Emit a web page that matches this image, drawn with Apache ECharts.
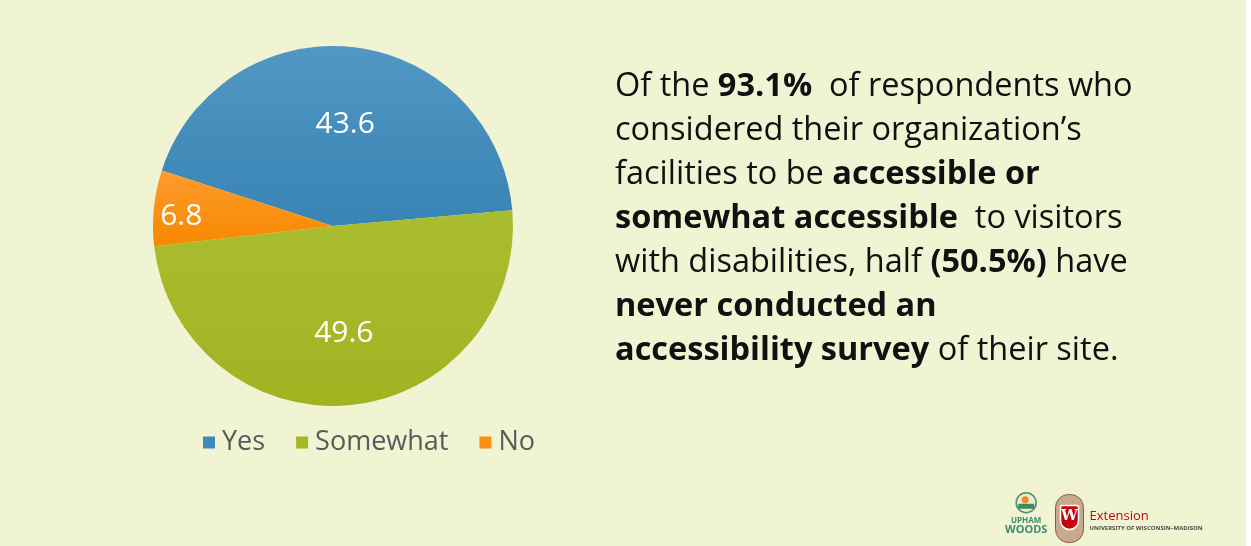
<!DOCTYPE html>
<html>
<head>
<meta charset="utf-8">
<script src="https://cdn.jsdelivr.net/npm/echarts@6/dist/echarts.min.js"></script>
<style>
  html, body { margin: 0; padding: 0; background: #ffffff; }
  #chart { width: 1251px; height: 546px; }
</style>
</head>
<body>
<div id="chart"></div>
<script>
// Survey answers: is the organization's site accessible to visitors with disabilities?
const categories = ['Yes', 'Somewhat', 'No'];
const shares = [43.6, 49.6, 6.8];
const sliceColors = [
  ['#5197c3', '#3884b4'],
  ['#aabd30', '#a0b422'],
  ['#fd9b2c', '#f78900']
];
const legendColors = ['#3f8bbb', '#a5b928', '#fb8f10'];

const FONT = '"Open Sans", Lato, sans-serif';
const CENTER = [333, 226];
const RADIUS = 180;
const START = 162;

function grad(pair) {
  return new echarts.graphic.LinearGradient(0, 0, 0, 1, [
    { offset: 0, color: pair[0] },
    { offset: 1, color: pair[1] }
  ]);
}

const pieData = categories.map((name, i) => ({
  name: name,
  value: shares[i],
  itemStyle: { color: grad(sliceColors[i]) }
}));

// transparent copies of the pie that only carry the value labels
function labelData(showFor) {
  return categories.map((name, i) => ({
    name: name,
    value: shares[i],
    itemStyle: { color: 'rgba(0,0,0,0)' },
    label: { show: showFor.indexOf(name) >= 0 }
  }));
}

// small nudges of the value labels inside their slices
const labelNudge = { Yes: [0, 6], Somewhat: [0, 0], No: [2, 6] };
function nudge(params) {
  const d = labelNudge[categories[params.dataIndex]];
  return { dx: d[0], dy: d[1] };
}

const valueLabel = {
  position: 'inside',
  color: '#ffffff',
  fontFamily: FONT,
  fontSize: 30,
  formatter: p => String(p.value)
};

const chart = echarts.init(document.getElementById('chart'), null, { renderer: 'canvas' });

chart.setOption({
  backgroundColor: '#f0f4d3',
  animation: false,
  legend: {
    left: 198,
    top: 424,
    icon: 'rect',
    itemWidth: 12,
    itemHeight: 12,
    itemGap: 31,
    selectedMode: false,
    textStyle: { color: '#5a5a5a', fontFamily: FONT, fontSize: 27, padding: [0, 0, 0, 2] },
    data: categories.map((n, i) => ({ name: n, itemStyle: { color: legendColors[i] } }))
  },
  series: [
    {
      type: 'pie',
      center: CENTER,
      radius: RADIUS,
      startAngle: START,
      clockwise: true,
      silent: true,
      label: { show: false },
      labelLine: { show: false },
      data: pieData
    },
    {
      type: 'pie',
      center: CENTER,
      radius: [30, RADIUS],
      startAngle: START,
      silent: true,
      legendHoverLink: false,
      label: valueLabel,
      labelLine: { show: false },
      labelLayout: nudge,
      data: labelData(['Yes', 'Somewhat'])
    },
    {
      type: 'pie',
      center: CENTER,
      radius: [123, RADIUS],
      startAngle: START,
      silent: true,
      legendHoverLink: false,
      label: valueLabel,
      labelLine: { show: false },
      labelLayout: nudge,
      data: labelData(['No'])
    }
  ],
  graphic: [
    {
      type: 'rect',
      shape: { x: 1246, y: 0, width: 5, height: 546 },
      style: { fill: '#ffffff' },
      silent: true
    },
    {
      type: 'text',
      left: 615,
      top: 65,
      silent: true,
      style: {
        text: [
          'Of the {b|93.1%}  of respondents who',
          'considered their organization\u2019s',
          'facilities to be {b|accessible or}',
          '{b|somewhat accessible}  to visitors',
          'with disabilities, half {b|(50.5%)} have',
          '{b|never conducted an}',
          '{b|accessibility survey} of their site.'
        ].join('\n'),
        fill: '#111111',
        font: '32.5px ' + FONT,
        lineHeight: 44,
        rich: {
          b: { fontWeight: 'bold', fontSize: 32.5, fontFamily: FONT, fill: '#111111', lineHeight: 44 }
        }
      }
    },
    // Upham Woods mark
    {
      type: 'group',
      left: 1005,
      top: 492,
      silent: true,
      children: [
        { type: 'circle', shape: { cx: 15, cy: 11, r: 10 }, style: { fill: '#e8ecd0', stroke: '#4a8f73', lineWidth: 1.5 } },
        { type: 'rect', shape: { x: 7, y: 12, width: 16, height: 5 }, style: { fill: '#3f8b5c' } },
        { type: 'circle', shape: { cx: 14, cy: 8, r: 3.5 }, style: { fill: '#ef8a2a' } },
        { type: 'text', style: { text: 'UPHAM', x: 15, y: 25, align: 'center', font: 'bold 8px ' + FONT, fill: '#3d8a73' } },
        { type: 'text', style: { text: 'WOODS', x: 15, y: 33, align: 'center', font: 'bold 11px ' + FONT, fill: '#3d8a73' } }
      ]
    },
    // UW-Madison Extension mark
    {
      type: 'group',
      left: 1055,
      top: 494,
      silent: true,
      children: [
        { type: 'rect', shape: { x: 0, y: 0, width: 28, height: 48, r: [13, 13, 13, 13] }, style: { fill: '#c9a98d', stroke: '#8a5a3c', lineWidth: 1 } },
        { type: 'rect', shape: { x: 5, y: 11, width: 18, height: 24, r: [2, 2, 9, 9] }, style: { fill: '#c5050c', stroke: '#ffffff', lineWidth: 1.5 } },
        { type: 'text', style: { text: 'W', x: 14, y: 14, align: 'center', font: 'bold 15px "DejaVu Serif", serif', fill: '#ffffff' } },
        { type: 'text', style: { text: 'Extension', x: 34, y: 15, font: '13px ' + FONT, fill: '#c5050c' } },
        { type: 'text', style: { text: 'UNIVERSITY OF WISCONSIN\u2013MADISON', x: 34, y: 31, font: 'bold 6px ' + FONT, fill: '#4a4a4a' } }
      ]
    }
  ]
});
</script>
</body>
</html>
